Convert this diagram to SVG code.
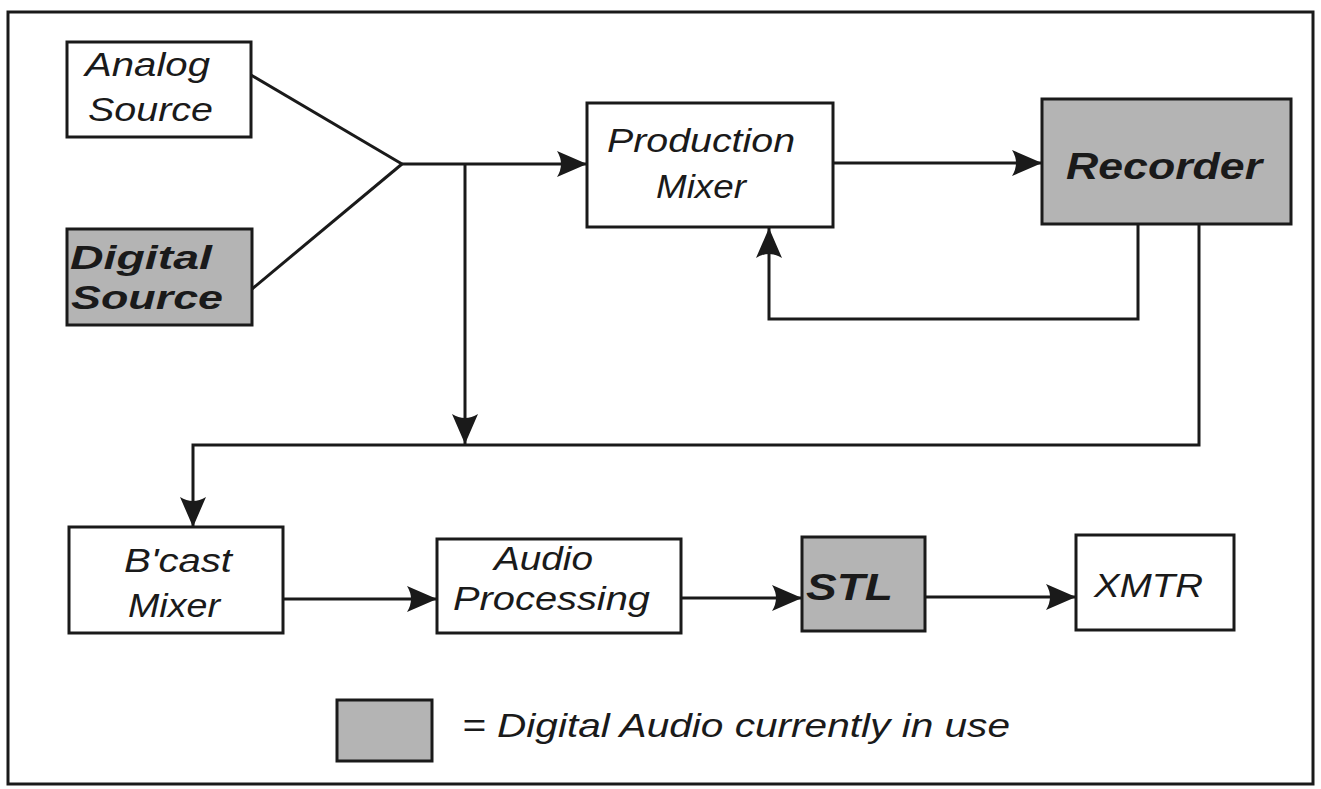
<svg xmlns="http://www.w3.org/2000/svg" width="1321" height="789" viewBox="0 0 1321 789">
<defs>
<style>
.box{fill:#fff;stroke:#1a1a1a;stroke-width:3}
.dig{fill:#b4b4b4;stroke:#1a1a1a;stroke-width:3}
.t{font-family:"Liberation Sans",Arial,sans-serif;font-style:italic;font-size:33px;fill:#1a1a1a}
.b{font-family:"Liberation Sans",Arial,sans-serif;font-style:italic;font-weight:bold;font-size:36px;fill:#1a1a1a}
.bs{font-size:33px}
.c{fill:none;stroke:#1a1a1a;stroke-width:3}
</style>
<marker id="ah" markerUnits="userSpaceOnUse" markerWidth="32" markerHeight="28" refX="30" refY="14" orient="auto">
<path d="M0,1 Q8,14 0,27 L30,14 Z" fill="#1a1a1a"/>
</marker>
</defs>
<rect x="0" y="0" width="1321" height="789" fill="#fff"/>
<rect id="frame" x="8" y="12" width="1305" height="772" fill="none" stroke="#1a1a1a" stroke-width="3"/>

<g id="connectors">
<line class="c" x1="251" y1="75" x2="402" y2="164"/>
<line class="c" x1="252" y1="289" x2="402" y2="164"/>
<line class="c" x1="402" y1="164" x2="587" y2="164" marker-end="url(#ah)"/>
<line class="c" x1="465" y1="164" x2="465" y2="444" marker-end="url(#ah)"/>
<line class="c" x1="833" y1="163" x2="1042" y2="163" marker-end="url(#ah)"/>
<polyline class="c" points="1138,224 1138,319 769,319 769,228" marker-end="url(#ah)"/>
<polyline class="c" points="1199,224 1199,445 193,445 193,527" marker-end="url(#ah)"/>
<line class="c" x1="283" y1="599" x2="437" y2="599" marker-end="url(#ah)"/>
<line class="c" x1="681" y1="598" x2="802" y2="598" marker-end="url(#ah)"/>
<line class="c" x1="925" y1="597" x2="1076" y2="597" marker-end="url(#ah)"/>
</g>

<g id="analog-source">
<rect class="box" x="67" y="42" width="184" height="95"/>
<text class="t" x="85" y="76" textLength="125" lengthAdjust="spacingAndGlyphs">Analog</text>
<text class="t" x="88" y="121" textLength="125" lengthAdjust="spacingAndGlyphs">Source</text>
</g>

<g id="digital-source">
<rect class="dig" x="67" y="229" width="185" height="96"/>
<text class="b bs" x="70" y="269" textLength="142" lengthAdjust="spacingAndGlyphs">Digital</text>
<text class="b bs" x="71" y="309" textLength="152" lengthAdjust="spacingAndGlyphs">Source</text>
</g>

<g id="production-mixer">
<rect class="box" x="587" y="103" width="246" height="124"/>
<text class="t" x="607" y="152" textLength="188" lengthAdjust="spacingAndGlyphs">Production</text>
<text class="t" x="656" y="198" textLength="90" lengthAdjust="spacingAndGlyphs">Mixer</text>
</g>

<g id="recorder">
<rect class="dig" x="1042" y="99" width="249" height="125"/>
<text class="b" x="1066" y="179" textLength="196" lengthAdjust="spacingAndGlyphs">Recorder</text>
</g>

<g id="bcast-mixer">
<rect class="box" x="69" y="527" width="214" height="106"/>
<text class="t" x="124" y="572" textLength="108" lengthAdjust="spacingAndGlyphs">B'cast</text>
<text class="t" x="128" y="617" textLength="92" lengthAdjust="spacingAndGlyphs">Mixer</text>
</g>

<g id="audio-processing">
<rect class="box" x="437" y="539" width="244" height="94"/>
<text class="t" x="494" y="570" textLength="99" lengthAdjust="spacingAndGlyphs">Audio</text>
<text class="t" x="453" y="610" textLength="197" lengthAdjust="spacingAndGlyphs">Processing</text>
</g>

<g id="stl">
<rect class="dig" x="802" y="537" width="123" height="94"/>
<text class="b" x="806" y="600" textLength="87" lengthAdjust="spacingAndGlyphs">STL</text>
</g>

<g id="xmtr">
<rect class="box" x="1076" y="535" width="158" height="95"/>
<text class="t" x="1094" y="597" textLength="109" lengthAdjust="spacingAndGlyphs">XMTR</text>
</g>

<g id="legend">
<rect class="dig" x="337" y="700" width="95" height="61"/>
<text class="t" x="462" y="737" textLength="548" lengthAdjust="spacingAndGlyphs">= Digital Audio currently in use</text>
</g>
</svg>
